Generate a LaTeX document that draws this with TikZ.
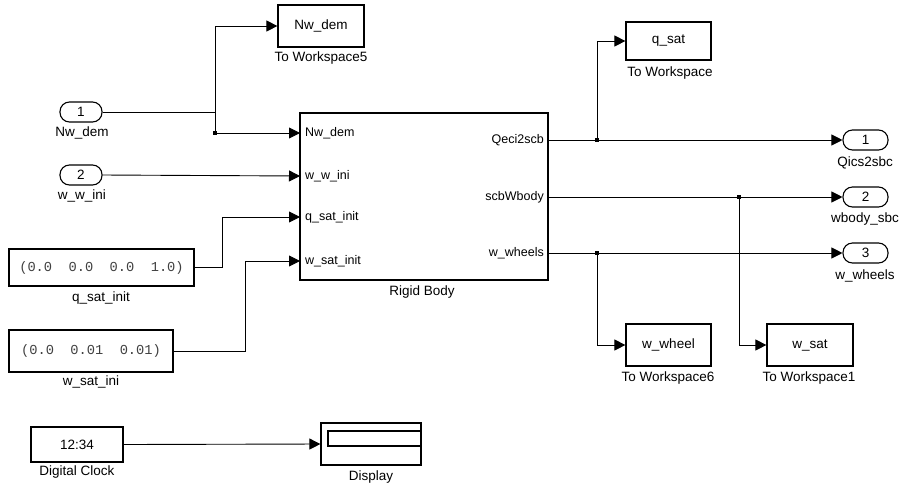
\documentclass[tikz,border=0pt]{standalone}
\usepackage{fontspec}
\setmainfont{Liberation Sans}
\newfontfamily\monofont{Liberation Mono}
\usetikzlibrary{arrows.meta}
\begin{document}
\begin{tikzpicture}[x=1pt,y=-1pt,
  blk/.style={draw, line width=1.2pt, inner sep=0pt, font=\fontsize{13.5}{15}\selectfont},
  port/.style={draw, line width=1.1pt, rounded corners=9.5pt, minimum height=20pt, inner sep=0pt, font=\fontsize{13.5}{15}\selectfont},
  lbl/.style={inner sep=0pt, font=\fontsize{13.5}{15}\selectfont},
  plbl/.style={inner sep=0pt, font=\fontsize{12.5}{14}\selectfont},
  cst/.style={blk, font=\monofont\fontsize{13.7}{15}\selectfont, text=black!75},
  wire/.style={line width=0.9pt, -{Triangle[length=11pt,width=11pt]}},
  jdot/.style={fill, inner sep=0pt, minimum size=3.5pt},
]
\useasboundingbox (0,0) rectangle (904,488);

% inports
\node[port, minimum width=42pt] (in1) at (81,112) {1};
\node[lbl] (in1l) at (82,133) {Nw\_dem};
\node[port, minimum width=42pt] (in2) at (81,175) {2};
\node[lbl] (in2l) at (82,196) {w\_w\_ini};

% constants
\node[cst, minimum width=185pt, minimum height=37pt] (cq) at (101.5,267.5) {(0.0\ \ 0.0\ \ 0.0\ \ 1.0)};
\node[lbl] (cql) at (101,298) {q\_sat\_init};
\node[cst, minimum width=164pt, minimum height=42pt] (cw) at (91,351) {(0.0\ \ 0.01\ \ 0.01)};
\node[lbl] (cwl) at (91,382) {w\_sat\_ini};

% to workspace 5
\node[blk, minimum width=86pt, minimum height=42pt] (tw5) at (321,26) {Nw\_dem};
\node[lbl] (tw5l) at (321,58) {To Workspace5};

% rigid body
\node[blk, minimum width=248pt, minimum height=167pt] (rb) at (424,196.5) {};
\node[lbl] (rbl) at (422,292) {Rigid Body};
\coordinate (rbi1) at (300,133);
\coordinate (rbi2) at (300,176);
\coordinate (rbi3) at (300,217);
\coordinate (rbi4) at (300,261);
\coordinate (rbo1) at (548,140);
\coordinate (rbo2) at (548,197);
\coordinate (rbo3) at (548,253);
\node[plbl, anchor=west] (p1) at (305,133) {Nw\_dem};
\node[plbl, anchor=west] (p2) at (305,176) {w\_w\_ini};
\node[plbl, anchor=west] (p3) at (305,217) {q\_sat\_init};
\node[plbl, anchor=west] (p4) at (305,261) {w\_sat\_init};
\node[plbl, anchor=east] (o1) at (544,140) {Qeci2scb};
\node[plbl, anchor=east] (o2) at (544,197) {scbWbody};
\node[plbl, anchor=east] (o3) at (544,253) {w\_wheels};

% to workspace (q_sat)
\node[blk, minimum width=85pt, minimum height=38pt] (qsat) at (668.5,41) {q\_sat};
\node[lbl] (qsatl) at (670,73) {To Workspace};

% outports
\node[port, minimum width=45pt] (out1) at (865.5,140) {1};
\node[lbl] (out1l) at (865,163) {Qics2sbc};
\node[port, minimum width=45pt] (out2) at (865.5,197) {2};
\node[lbl] (out2l) at (865,219) {wbody\_sbc};
\node[port, minimum width=45pt] (out3) at (865.5,253) {3};
\node[lbl] (out3l) at (865,276) {w\_wheels};

% bottom workspaces
\node[blk, minimum width=85pt, minimum height=42pt] (wwheel) at (668.5,345) {w\_wheel};
\node[lbl] (wwheell) at (668,378) {To Workspace6};
\node[blk, minimum width=86pt, minimum height=42pt] (wsat) at (810,345) {w\_sat};
\node[lbl] (wsatl) at (809,378) {To Workspace1};

% clock and display
\node[blk, minimum width=92pt, minimum height=35pt] (clk) at (77,444.5) {12:34};
\node[lbl] (clkl) at (77,472) {Digital Clock};
\node[blk, minimum width=100pt, minimum height=42pt] (disp) at (371,444) {};
\draw[line width=1.2pt] (328,431) rectangle (disp.east |- 0,446);
\node[lbl] (displ) at (371,477) {Display};

% junctions
\node[jdot] (j1) at (215,133) {};
\node[jdot] (j2) at (597,140) {};
\node[jdot] (j3) at (739,197) {};
\node[jdot] (j4) at (597,253) {};

% wires
\draw[line width=0.9pt] (in1.east) -| (j1.center);
\draw[wire] (j1.center) |- (tw5.west);
\draw[wire] (j1.center) -- (rbi1);
\draw[wire] (in2.east) -- (rbi2);
\draw[wire] (cq.east) -| (222,217) -- (rbi3);
\draw[wire] (cw.east) -| (245,261) -- (rbi4);

\draw[wire] (rbo1) -- (out1.west);
\draw[wire] (j2.center) |- (qsat.west);
\draw[wire] (rbo2) -- (out2.west);
\draw[wire] (j3.center) |- (wsat.west);
\draw[wire] (rbo3) -- (out3.west);
\draw[wire] (j4.center) |- (wwheel.west);

\draw[wire] (clk.east) -- (disp.west);
\end{tikzpicture}
\end{document}
